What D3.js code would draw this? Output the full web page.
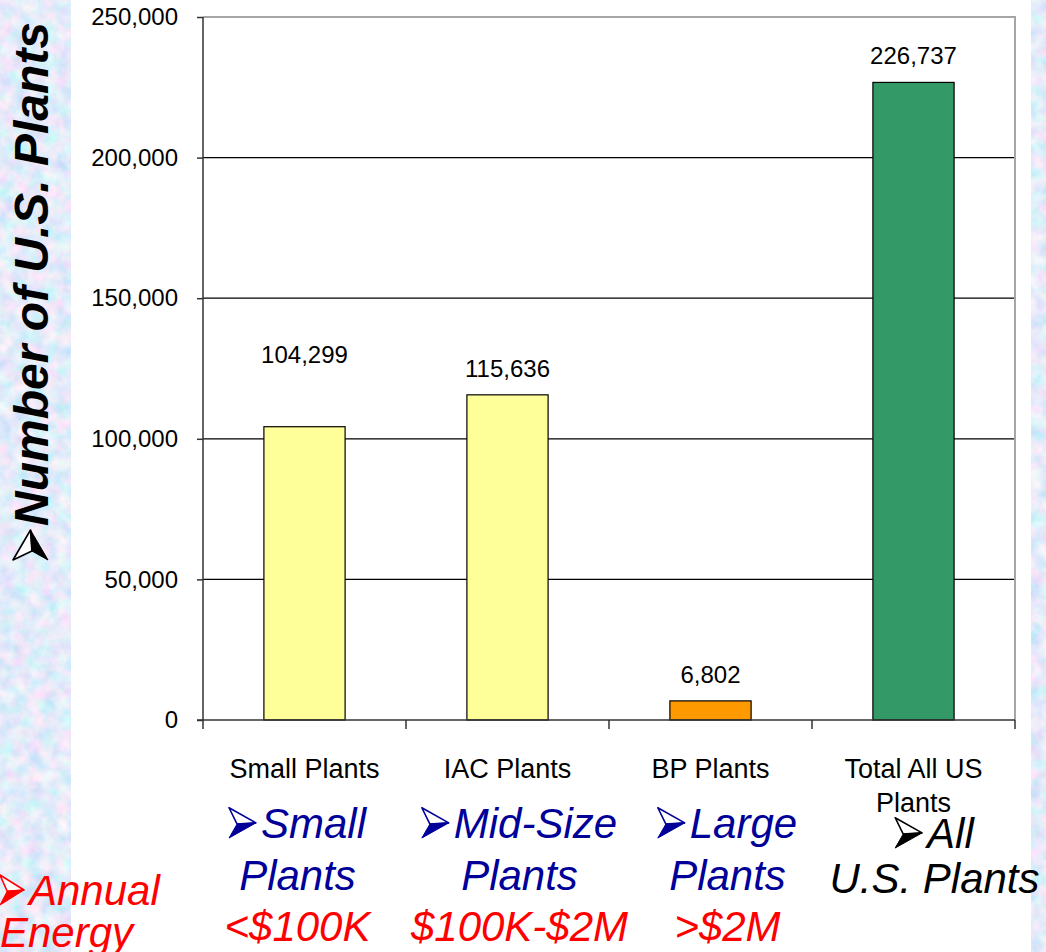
<!doctype html>
<html>
  <head>
    <meta charset="utf-8">
    <title>Number of U.S. Plants</title>
    <script src="https://cdnjs.cloudflare.com/ajax/libs/d3/7.8.5/d3.min.js"></script>
    <style>
      html, body { margin: 0; padding: 0; background: #fff; }
      svg { display: block; }
      text { font-family: Arial, "Liberation Sans", sans-serif; }
    </style>
  </head>
  <body>
    <div id="chart"></div>
    <script>
    // data
    const categories = ["Small Plants", "IAC Plants", "BP Plants", "Total All US Plants"];
    const plantCounts = [104299, 115636, 6802, 226737];
    const yTicks = [0, 50000, 100000, 150000, 200000, 250000];

    // the big annotations under the axis
    const sizeNames = ["Small", "Mid-Size", "Large", "All"];
    const sizeSecond = ["Plants", "Plants", "Plants", "U.S. Plants"];
    const energyRanges = ["<$100K", "$100K-$2M", ">$2M"];

    // styles
    const barColors = ["#ffff99", "#ffff99", "#ff9900", "#339966"];
    const noteColors = ["#000099", "#000099", "#000099", "#000000"];
    const noteShift = [-7, 12, 17, 21];     // hand-placed in the slide
    const labelLift = [72, 26, 26, 27];     // distance of value label above bar top

    const W = 1046, H = 952;
    const plot = {left: 203, right: 1015, top: 17, bottom: 720};

    const svg = d3.select('#chart')
      .append('svg')
      .attr('width', W)
      .attr('height', H);

    // mottled slide background
    const defs = svg.append('defs');
    const f = defs.append('filter').attr('id', 'tex')
      .attr('x', 0).attr('y', 0).attr('width', '100%').attr('height', '100%');
    f.append('feTurbulence').attr('type', 'fractalNoise')
      .attr('baseFrequency', 0.07).attr('numOctaves', 3).attr('seed', 7);
    f.append('feColorMatrix').attr('type', 'matrix')
      .attr('values', '0.75 0 0 0 0.4  0 0.35 0 0 0.66  0 0 0.1 0 0.9  0 0 0 0 1');

    svg.append('rect').attr('x', 0).attr('y', 0).attr('width', W).attr('height', H)
      .attr('filter', 'url(#tex)');
    svg.append('rect').attr('x', 71).attr('y', 0).attr('width', 1031 - 71).attr('height', H)
      .attr('fill', '#fff');

    const x = d3.scaleBand()
      .domain(categories)
      .range([plot.left, plot.right])
      .paddingInner(0.6)
      .paddingOuter(0.3);

    const y = d3.scaleLinear()
      .domain([0, 250000])
      .range([plot.bottom, plot.top]);

    // gridlines
    svg.append('g')
      .selectAll('line')
      .data(yTicks.filter(d => d > 0 && d < 250000))
      .join('line')
      .attr('x1', plot.left).attr('x2', plot.right)
      .attr('y1', d => y(d)).attr('y2', d => y(d))
      .attr('stroke', '#000').attr('stroke-width', 1.2);

    // grey frame top & right
    svg.append('path')
      .attr('d', `M${plot.left},${y(250000)}H${plot.right}V${plot.bottom}`)
      .attr('fill', 'none').attr('stroke', '#a6a6a6').attr('stroke-width', 2);

    // bars
    svg.append('g')
      .selectAll('rect')
      .data(plantCounts)
      .join('rect')
      .attr('x', (d, i) => x(categories[i]))
      .attr('y', d => y(d))
      .attr('width', x.bandwidth())
      .attr('height', d => y(0) - y(d))
      .attr('fill', (d, i) => barColors[i])
      .attr('stroke', '#000').attr('stroke-width', 1.2);

    // value labels
    svg.append('g')
      .selectAll('text')
      .data(plantCounts)
      .join('text')
      .attr('x', (d, i) => x(categories[i]) + x.bandwidth() / 2)
      .attr('y', (d, i) => y(d) - labelLift[i] + 8.5)
      .attr('text-anchor', 'middle')
      .style('font-size', '24px')
      .text(d => d3.format(',')(d));

    // y axis
    const yAxis = svg.append('g')
      .attr('transform', `translate(${plot.left},0)`)
      .call(d3.axisLeft(y).tickValues(yTicks).tickFormat(d3.format(',')).tickSize(6).tickPadding(19));
    yAxis.select('.domain').attr('stroke', '#333').attr('stroke-width', 1.5).attr('d', `M0,${plot.top}V${plot.bottom}`);
    yAxis.selectAll('.tick line').attr('stroke', '#333').attr('stroke-width', 1.5);
    yAxis.selectAll('.tick text')
      .style('font-size', '24px').attr('fill', '#000')
      .attr('font-family', 'Arial, "Liberation Sans", sans-serif');

    // x axis with ticks on category boundaries
    const xAxisG = svg.append('g');
    xAxisG.append('line')
      .attr('x1', plot.left - 6).attr('x2', plot.right)
      .attr('y1', plot.bottom).attr('y2', plot.bottom)
      .attr('stroke', '#333').attr('stroke-width', 1.5);
    const bounds = categories.map(c => x(c) - x.step() * 0.3).concat([plot.right]);
    xAxisG.selectAll('.xt')
      .data(bounds)
      .join('line')
      .attr('class', 'xt')
      .attr('x1', d => d).attr('x2', d => d)
      .attr('y1', plot.bottom).attr('y2', plot.bottom + 9)
      .attr('stroke', '#333').attr('stroke-width', 1.5);

    // category labels, long one wrapped
    const catText = xAxisG.selectAll('.cat')
      .data(categories)
      .join('text')
      .attr('class', 'cat')
      .attr('x', d => x(d) + x.bandwidth() / 2)
      .attr('y', 778)
      .attr('text-anchor', 'middle')
      .style('font-size', '27px');
    catText.each(function(d) {
      const t = d3.select(this);
      const lines = d.length > 14 ? [d.slice(0, d.lastIndexOf(' ')), d.slice(d.lastIndexOf(' ') + 1)] : [d];
      lines.forEach((l, k) => {
        t.append('tspan').attr('x', t.attr('x')).attr('dy', k ? 34 : 0).text(l);
      });
    });

    // bullet arrowhead like the wingdings one: light upper half, solid lower half
    function drawArrow(g, x0, base, w, h, color) {
      const top = base - h, mid = base - h * 0.5;
      const a = g.append('g');
      a.append('path')
        .attr('d', `M${x0},${top}L${x0 + w},${mid}L${x0 + w * 0.3},${mid + h * 0.04}Z`)
        .attr('fill', '#fff').attr('stroke', color).attr('stroke-width', 1.6).attr('stroke-linejoin', 'round');
      a.append('path')
        .attr('d', `M${x0 + w * 0.3},${mid + h * 0.04}L${x0 + w},${mid}L${x0},${base}Z`)
        .attr('fill', color).attr('stroke', color).attr('stroke-width', 1).attr('stroke-linejoin', 'round');
    }

    // line of text with an arrow in front, centred on cx
    function arrowLine(g, cx, base, word, color, size) {
      const aw = size * 0.64, ah = size * 0.72, gap = size * 0.12;
      const t = g.append('text').attr('y', base).attr('fill', color).text(word);
      const len = t.node().getComputedTextLength();
      const x0 = cx - (aw + gap + len) / 2;
      t.attr('x', x0 + aw + gap);
      drawArrow(g, x0, base, aw, ah, color);
    }

    // y title
    const yTitleG = svg.append('g').attr('transform', 'translate(48,560) rotate(-90)');
    drawArrow(yTitleG, 0, 0, 30, 35, '#000');
    yTitleG.append('text')
      .attr('x', 34).attr('y', 0)
      .style('font-size', '48px')
      .style('font-weight', 'bold')
      .style('font-style', 'italic')
      .text('Number of U.S. Plants');

    // big annotations
    const notes = svg.append('g').style('font-style', 'italic').style('font-size', '42px');
    sizeNames.forEach((s, i) => {
      const cx = x(categories[i]) + x.bandwidth() / 2 + noteShift[i];
      const last = i === 3;
      arrowLine(notes, cx, last ? 848 : 838, s, noteColors[i], 42);
      notes.append('text').attr('x', cx).attr('y', last ? 893 : 890)
        .attr('text-anchor', 'middle').attr('fill', noteColors[i]).text(sizeSecond[i]);
      if (i < energyRanges.length) {
        notes.append('text').attr('x', cx).attr('y', 941)
          .attr('text-anchor', 'middle').attr('fill', '#ff0000').text(energyRanges[i]);
      }
    });

    drawArrow(notes, 0, 905, 24, 30, '#ff0000');
    notes.append('text').attr('x', 29).attr('y', 905).attr('fill', '#ff0000').text('Annual');
    notes.append('text').attr('x', 0).attr('y', 947).attr('fill', '#ff0000').text('Energy');
    </script>
  </body>
</html>
